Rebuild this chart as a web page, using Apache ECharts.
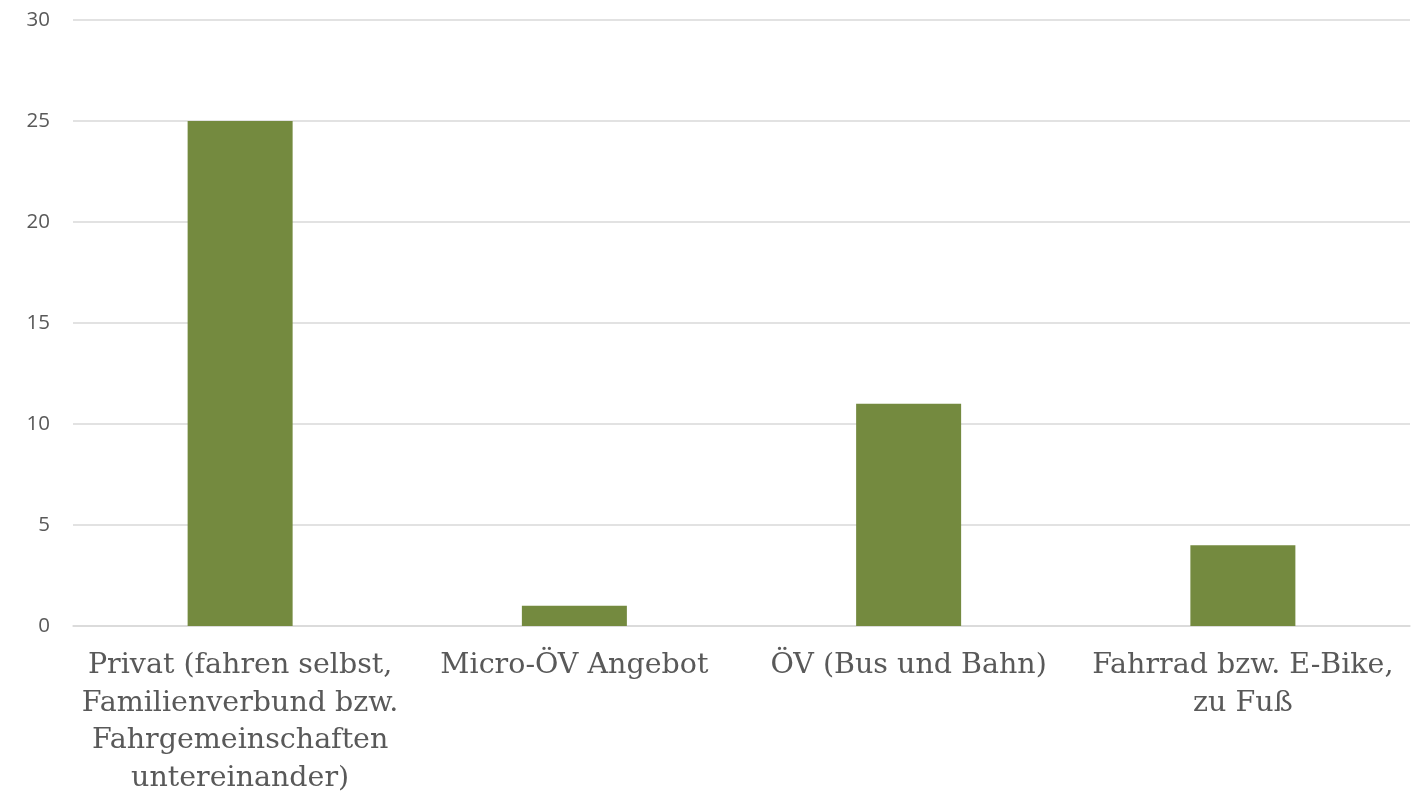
<!DOCTYPE html>
<html><head><meta charset="utf-8">
<script src="https://cdn.jsdelivr.net/npm/echarts@6/dist/echarts.min.js"></script>
<style>html,body{margin:0;padding:0;background:#fff}#c{width:1427px;height:798px}</style>
</head><body><div id="c"></div>
<script>
const categories = [
  "Privat (fahren selbst,\nFamilienverbund bzw.\nFahrgemeinschaften\nuntereinander)",
  "Micro-ÖV Angebot",
  "ÖV (Bus und Bahn)",
  "Fahrrad bzw. E-Bike,\nzu Fuß"
];
const values = [25, 1, 11, 4];
const yTicks = { min: 0, max: 30, interval: 5 };

const chart = echarts.init(document.getElementById('c'), null, { renderer: 'canvas' });
chart.setOption({
  animation: false,
  grid: { left: 73, right: 17, top: 20, bottom: 172, containLabel: false },
  xAxis: {
    type: 'category',
    data: categories,
    axisLine: { lineStyle: { color: '#d9d9d9', width: 1.5 } },
    axisTick: { show: false },
    axisLabel: {
      color: '#595959', fontFamily: 'DejaVu Serif', fontSize: 28.5,
      lineHeight: 37.5, margin: 21, interval: 0, align: 'center'
    }
  },
  yAxis: {
    type: 'value', min: yTicks.min, max: yTicks.max, interval: yTicks.interval,
    axisLine: { show: false }, axisTick: { show: false },
    splitLine: { lineStyle: { color: '#d9d9d9', width: 1.5 } },
    axisLabel: { color: '#595959', fontFamily: 'Open Sans', fontSize: 20.5, margin: 23 }
  },
  series: [{
    type: 'bar', data: values, barWidth: 105,
    itemStyle: { color: '#748a3f' }
  }]
});
</script></body></html>
